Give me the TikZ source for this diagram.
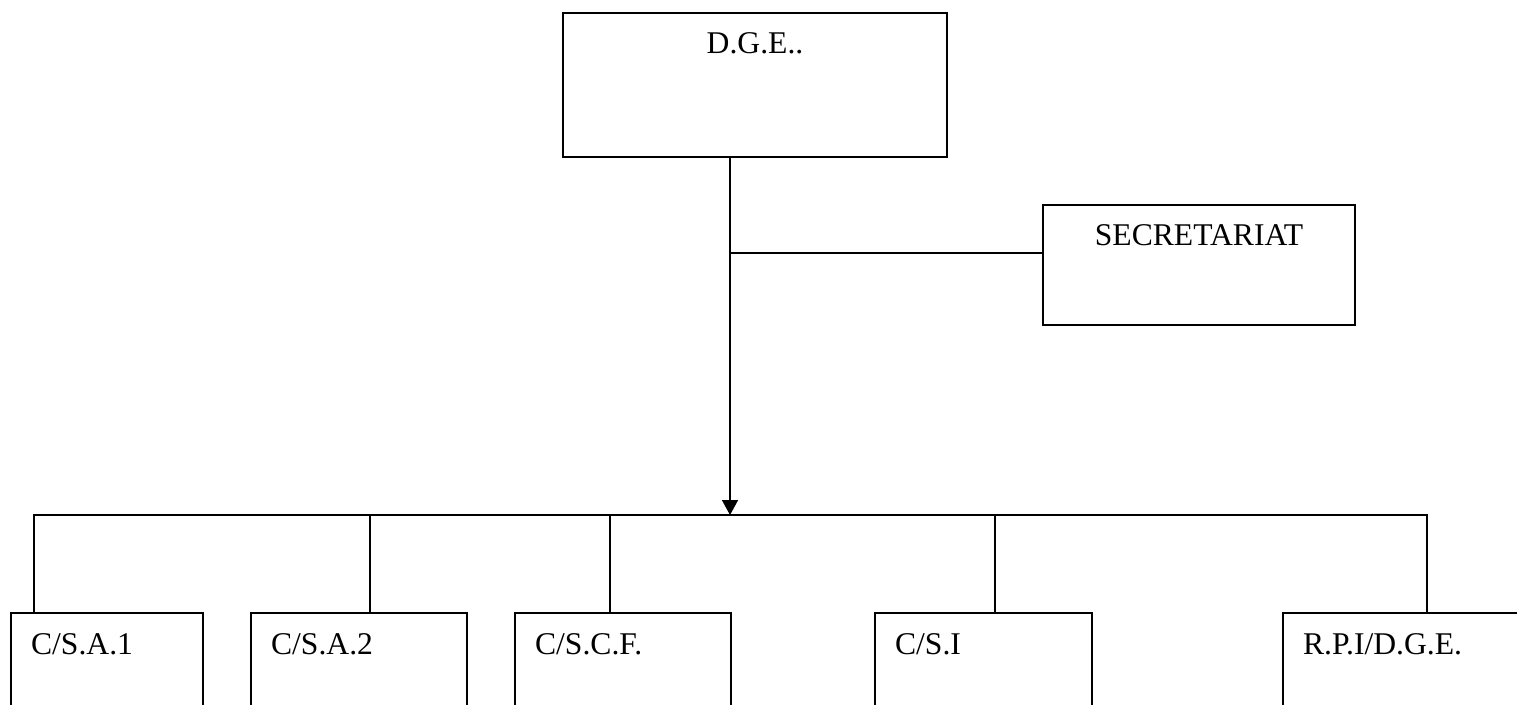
\documentclass[tikz,border=0pt]{standalone}
\usepackage{fontspec}
\setmainfont{Liberation Serif}
\usetikzlibrary{arrows.meta}

\begin{document}
\begin{tikzpicture}[x=0.02cm,y=-0.02cm,
  boite/.style={draw,line width=1.2pt,anchor=north west,inner xsep=0.4cm,inner ysep=0pt,
    align=left,text height=0.82cm,text depth=2cm,font=\fontsize{18}{20}\selectfont},
  lien/.style={line width=0.9pt}]
  \useasboundingbox (0,0) rectangle (1517,704);
  \clip (0,0) rectangle (1517,704);
  % direction
  \node[boite,align=center,inner xsep=0pt,text width=7.68cm,text height=0.8cm,text depth=2.08cm] (dge) at (562,12) {D.G.E..};
  % secretariat
  \node[boite,align=center,inner xsep=0pt,text width=6.24cm,text height=0.8cm,text depth=1.6cm] (secr) at (1042,204) {SECRETARIAT};
  % services
  \node[boite,text width=3.04cm] (csa1) at (10,612) {C/S.A.1};
  \node[boite,text width=3.52cm] (csa2) at (250,612) {C/S.A.2};
  \node[boite,text width=3.52cm] (cscf) at (514,612) {C/S.C.F.};
  \node[boite,text width=3.54cm] (csi) at (874,612) {C/S.I};
  \node[boite,text width=4.2cm] (rpi) at (1282,612) {R.P.I/D.G.E.};
  % tronc et barre
  \coordinate (bus) at (730,515);
  \draw[lien,-{Triangle[length=0.3cm,width=0.32cm]}] (dge.south -| bus) -- (bus);
  \draw[lien] ([yshift=0.24cm]secr.west) -- ([yshift=0.24cm]secr.west -| bus);
  \draw[lien] (csa1.north west) ++(24,0) |- (bus) -| ([xshift=2.9cm]rpi.north west);
  \foreach \n/\d in {csa2/120,cscf/96,csi/121}
    \draw[lien] (\n.north west) ++(\d,0) -- ++(0,-97);
\end{tikzpicture}
\end{document}
